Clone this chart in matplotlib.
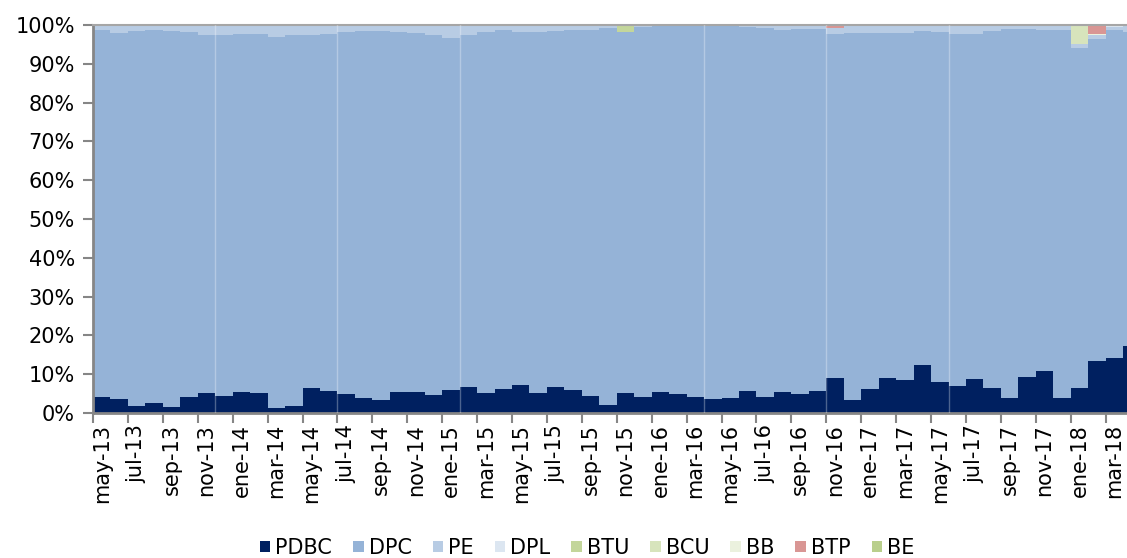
import matplotlib
matplotlib.use('Agg')
import matplotlib.pyplot as plt
from matplotlib.patches import Patch
import numpy as np

# 100% apilado mensual, may-13 a abr-18
meses_abrev = ['ene', 'feb', 'mar', 'abr', 'may', 'jun',
               'jul', 'ago', 'sep', 'oct', 'nov', 'dic']
meses = []
for k in range(60):
    m = (4 + k) % 12
    a = 13 + (4 + k) // 12
    meses.append(f'{meses_abrev[m]}-{a}')

pdbc = [4.25, 3.56, 1.74, 2.6, 1.56, 4.25, 5.2, 4.4, 5.5, 5.2,
        1.2, 1.74, 6.4, 5.7, 4.8, 3.9, 3.4, 5.3, 5.4, 4.6,
        5.9, 6.7, 5.1, 6.1, 7.2, 5.2, 6.7, 5.9, 4.3, 2.0,
        5.1, 4.1, 5.4, 4.9, 4.1, 3.6, 3.9, 5.7, 4.1, 5.3,
        4.9, 5.6, 8.9, 3.4, 6.2, 8.9, 8.4, 12.4, 7.9, 6.9,
        8.8, 6.4, 3.9, 9.4, 10.8, 3.9, 6.4, 13.5, 14.2, 17.2]

dpc = [94.45, 94.44, 96.76, 96.1, 96.84, 93.95, 92.2, 92.9, 92.2, 92.5,
       95.8, 95.56, 91.1, 92.0, 93.5, 94.6, 95.1, 93.0, 92.6, 92.9,
       90.8, 90.6, 93.1, 92.6, 91.0, 93.0, 91.8, 92.8, 94.4, 97.2,
       93.1, 95.4, 94.3, 94.8, 95.6, 96.1, 95.8, 93.8, 95.1, 93.45,
       94.1, 93.4, 88.7, 94.5, 91.7, 89.0, 89.5, 86.1, 90.3, 90.8,
       88.9, 92.15, 95.1, 89.6, 87.9, 94.9, 87.6, 82.8, 84.4, 81.1]

pe = [1.3, 2.0, 1.5, 1.3, 1.3, 1.5, 2.3, 2.7, 2.3, 2.3,
      3.0, 2.7, 2.5, 2.3, 1.7, 1.5, 1.5, 1.7, 2.0, 2.5,
      3.3, 2.7, 1.8, 1.3, 1.8, 1.8, 1.5, 1.3, 1.3, 0.8,
      0.0, 0.5, 0.3, 0.3, 0.3, 0.3, 0.3, 0.5, 0.8, 0.9,
      1.0, 1.0, 1.5, 2.1, 2.1, 2.1, 2.1, 1.5, 1.8, 2.3,
      2.3, 1.1, 1.0, 1.0, 1.3, 1.2, 1.0, 1.2, 1.0, 1.4]

dpl = [0.0] * 60
dpl[4], dpl[5], dpl[6], dpl[58] = 0.3, 0.3, 0.3, 0.4
btu = [0.0] * 60
btu[30], btu[51] = 1.8, 0.35
bcu = [0.0] * 60
bcu[56] = 5.0
bb = [0.0] * 60
bb[57] = 0.3
btp = [0.0] * 60
btp[39], btp[42], btp[57] = 0.35, 0.9, 2.2
be = [0.0] * 60
be[59] = 0.3

series = [('PDBC', pdbc, '#002060'),
          ('DPC', dpc, '#95b3d7'),
          ('PE', pe, '#b8cce4'),
          ('DPL', dpl, '#dce6f1'),
          ('BTU', btu, '#c3d69b'),
          ('BCU', bcu, '#d7e4bc'),
          ('BB', bb, '#ebf1de'),
          ('BTP', btp, '#d99694'),
          ('BE', be, '#b9cf8c')]

plt.rcParams['font.family'] = ['DejaVu Sans']
plt.rcParams['font.size'] = 15

fig = plt.figure(figsize=(11.27, 5.58), dpi=100)
ax = fig.add_axes([93 / 1127, 145 / 558, 1047.6 / 1127, 388 / 558])

x = np.arange(len(meses))
bottom = np.zeros(len(meses))
for nombre, vals, color in series:
    vals = np.array(vals)
    ax.bar(x, vals, width=1.0, bottom=bottom, color=color,
           edgecolor='none', label=nombre, zorder=2)
    bottom += vals

# lineas tenues que aparecen en el original
for k in [7, 14, 21, 35, 42, 49]:
    ax.axvline(k - 0.5, color='white', lw=1, alpha=0.3, zorder=3)

ax.set_xlim(-0.5, 59.5)
ax.set_ylim(0, 100)
ax.set_yticks(np.arange(0, 101, 10))
ax.set_yticklabels([f'{v}%' for v in range(0, 101, 10)])

ax.set_xticks(np.arange(-0.5, 60, 2))
ax.set_xticklabels([])
ax.set_xticks(x[::2], minor=True)
ax.set_xticklabels(meses[::2], minor=True, rotation=90)
ax.tick_params(axis='x', which='major', length=7, width=1.5, color='#868686')
ax.tick_params(axis='x', which='minor', length=0, pad=8)
ax.tick_params(axis='y', length=7, width=1.5, color='#868686', pad=6)

ax.spines['right'].set_visible(False)
for lado in ['left', 'bottom']:
    ax.spines[lado].set_color('#868686')
    ax.spines[lado].set_linewidth(2)
ax.spines['top'].set_color('#a6a6a6')
ax.spines['top'].set_linewidth(1.5)

handles = [Patch(facecolor=c, edgecolor='none') for _, _, c in series]
fig.legend(handles, [n for n, _, _ in series], loc='center',
           bbox_to_anchor=(0.521, 0.018), ncol=9, frameon=False,
           handlelength=0.5, handleheight=0.5, handletextpad=0.25,
           columnspacing=1.0, fontsize=15)

plt.savefig('out.png', dpi=100)
plt.close()
